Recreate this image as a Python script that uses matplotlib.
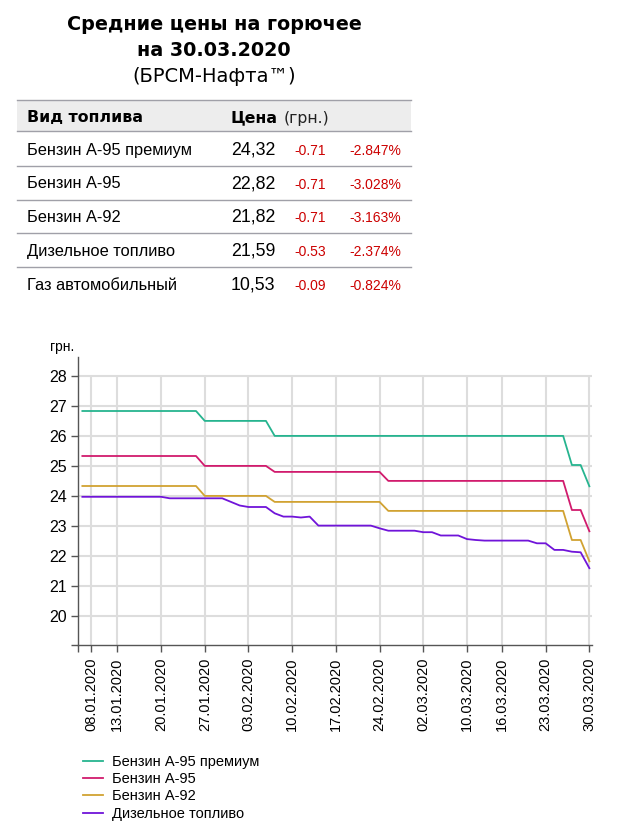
import matplotlib
matplotlib.use("Agg")
import matplotlib.pyplot as plt
from matplotlib.lines import Line2D
from matplotlib.patches import Rectangle

W, H = 642, 838

# working days shown on the chart (one point per day)
dates = ["03.01.2020", "08.01.2020", "09.01.2020", "10.01.2020",
         "13.01.2020", "14.01.2020", "15.01.2020", "16.01.2020", "17.01.2020",
         "20.01.2020", "21.01.2020", "22.01.2020", "23.01.2020", "24.01.2020",
         "27.01.2020", "28.01.2020", "29.01.2020", "30.01.2020", "31.01.2020",
         "03.02.2020", "04.02.2020", "05.02.2020", "06.02.2020", "07.02.2020",
         "10.02.2020", "11.02.2020", "12.02.2020", "13.02.2020", "14.02.2020",
         "17.02.2020", "18.02.2020", "19.02.2020", "20.02.2020", "21.02.2020",
         "24.02.2020", "25.02.2020", "26.02.2020", "27.02.2020", "28.02.2020",
         "02.03.2020", "03.03.2020", "04.03.2020", "05.03.2020", "06.03.2020",
         "10.03.2020", "11.03.2020", "12.03.2020", "13.03.2020",
         "16.03.2020", "17.03.2020", "18.03.2020", "19.03.2020", "20.03.2020",
         "23.03.2020", "24.03.2020", "25.03.2020", "26.03.2020", "27.03.2020",
         "30.03.2020"]

tick_dates = ["08.01.2020", "13.01.2020", "20.01.2020", "27.01.2020",
              "03.02.2020", "10.02.2020", "17.02.2020", "24.02.2020",
              "02.03.2020", "10.03.2020", "16.03.2020", "23.03.2020",
              "30.03.2020"]

a95_prem = [26.83] * 14 + [26.5] * 8 + [26.0] * 34 + [25.03, 25.03, 24.32]
a95 = [25.33] * 14 + [25.0] * 8 + [24.8] * 13 + [24.5] * 21 + [23.53, 23.53, 22.82]
a92 = [24.33] * 14 + [24.0] * 8 + [23.8] * 13 + [23.5] * 21 + [22.53, 22.53, 21.82]
diesel = ([23.97] * 10 + [23.92] * 7 + [23.8, 23.68, 23.63, 23.63, 23.63,
          23.42, 23.31, 23.31, 23.28, 23.31] + [23.01] * 7 + [22.92]
          + [22.84] * 4 + [22.79] * 2 + [22.68] * 3 + [22.56, 22.53]
          + [22.51] * 6 + [22.42, 22.42, 22.2, 22.2, 22.14, 22.12, 21.59])

series_names = ["Бензин А-95 премиум", "Бензин А-95", "Бензин А-92", "Дизельное топливо"]
series_colors = ["#26b48f", "#d11b6d", "#d1a232", "#7014d9"]

# table
fuel_types = ["Бензин А-95 премиум", "Бензин А-95", "Бензин А-92",
              "Дизельное топливо", "Газ автомобильный"]
prices = ["24,32", "22,82", "21,82", "21,59", "10,53"]
changes = ["-0.71", "-0.71", "-0.71", "-0.53", "-0.09"]
changes_pct = ["-2.847%", "-3.028%", "-3.163%", "-2.374%", "-0.824%"]


def fx(x):
    return x / W


def fy(y):
    return 1 - y / H


fig = plt.figure(figsize=(W / 100, H / 100), dpi=100)
fig.patch.set_facecolor("white")

# title
fig.text(fx(214), fy(24), "Средние цены на горючее", ha="center", va="center",
         fontsize=13.8, fontweight="bold", family="DejaVu Sans")
fig.text(fx(214), fy(50), "на 30.03.2020", ha="center", va="center",
         fontsize=13.8, fontweight="bold", family="DejaVu Sans")
fig.text(fx(214), fy(77), "(БРСМ-Нафта™)", ha="center", va="center",
         fontsize=14, family="DejaVu Sans")

# table background + lines
fig.add_artist(Rectangle((fx(17), fy(131)), fx(411) - fx(17), fy(100) - fy(131),
                         transform=fig.transFigure, facecolor="#ededed",
                         edgecolor="none"))
for yy in [100, 131, 166, 200, 233, 267]:
    fig.add_artist(Line2D([fx(17), fx(411)], [fy(yy), fy(yy)],
                          transform=fig.transFigure, color="#a0a0a8", lw=1))

fig.text(fx(27), fy(118), "Вид топлива", ha="left", va="center",
         fontsize=11.3, fontweight="bold", family="DejaVu Sans")
fig.text(fx(231), fy(118), "Цена", ha="left", va="center",
         fontsize=11.3, fontweight="bold", family="DejaVu Sans")
fig.text(fx(284), fy(118), "(грн.)", ha="left", va="center",
         fontsize=11.3, family="DejaVu Sans", color="#222222")

row_y = [150, 184, 217, 251, 285]
for i in range(len(fuel_types)):
    fig.text(fx(27), fy(row_y[i]), fuel_types[i], ha="left", va="center",
             fontsize=11.8, family="Liberation Sans")
    fig.text(fx(231), fy(row_y[i]), prices[i], ha="left", va="center",
             fontsize=12.8, family="Liberation Sans")
    fig.text(fx(294), fy(row_y[i] + 1), changes[i], ha="left", va="center",
             fontsize=10, family="Liberation Sans", color="#cc0000")
    fig.text(fx(401), fy(row_y[i] + 1), changes_pct[i], ha="right", va="center",
             fontsize=10, family="Liberation Sans", color="#cc0000")

# chart
ax = fig.add_axes([fx(78), fy(645), fx(592) - fx(78), fy(357) - fy(645)])
x = list(range(len(dates)))
all_series = [a95_prem, a95, a92, diesel]
for vals, name, col in zip(all_series, series_names, series_colors):
    ax.plot(x, vals, color=col, lw=1.3, label=name, zorder=3)

tick_pos = [dates.index(d) for d in tick_dates]
y_ticks = list(range(20, 29))
x_lo, x_hi = -0.5, 58.3
y_lo, y_hi = 19.03, 28.63

ax.set_xlim(x_lo, x_hi)
ax.set_ylim(y_lo, y_hi)
ax.set_yticks(y_ticks)
ax.set_xticks(tick_pos)
ax.set_xticklabels(tick_dates, rotation=90, fontsize=10.5, family="Liberation Sans")
ax.set_yticklabels([str(v) for v in y_ticks], fontsize=11.5, family="Liberation Sans")
# little overhang of both axis lines at the origin
ax.set_xticks([x_lo], minor=True)
ax.set_yticks([y_lo], minor=True)

for v in y_ticks:
    ax.axhline(v, color="#dddddd", lw=1.5, zorder=1)
ax.vlines(tick_pos, y_lo, 28, color="#dddddd", lw=1.5, zorder=1)

for s in ["top", "right"]:
    ax.spines[s].set_visible(False)
for s in ["left", "bottom"]:
    ax.spines[s].set_color("#555555")
    ax.spines[s].set_linewidth(1)
ax.tick_params(axis="both", which="both", colors="#555555", length=5, width=1,
               labelcolor="black")
ax.tick_params(axis="y", pad=3)
ax.tick_params(axis="x", pad=4)

fig.text(fx(50), fy(347), "грн.", ha="left", va="center", fontsize=10,
         family="Liberation Sans")

leg = fig.legend(loc="upper left", bbox_to_anchor=(fx(83), fy(755)),
                 frameon=False, prop={"family": "Liberation Sans", "size": 10.5},
                 handlelength=1.37, handletextpad=0.6, labelspacing=0.22,
                 borderaxespad=0, borderpad=0)

fig.savefig("out.png", dpi=100, facecolor="white")
